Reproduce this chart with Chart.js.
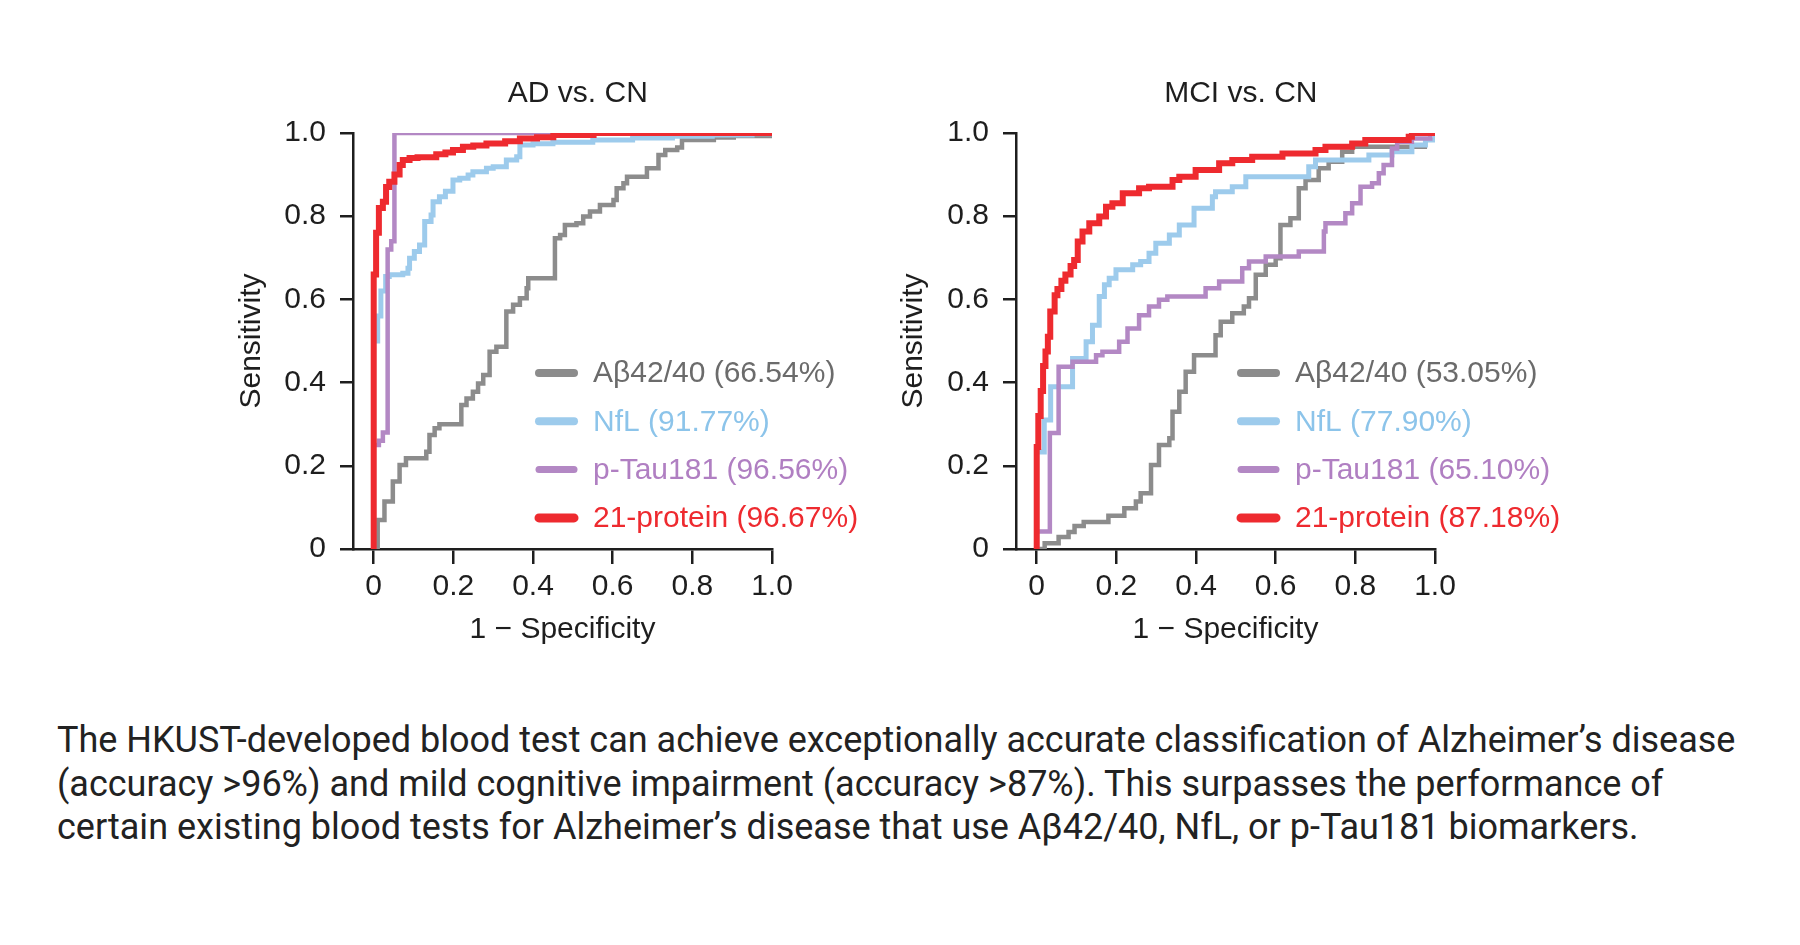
<!DOCTYPE html>
<html>
<head>
<meta charset="utf-8">
<script src="https://cdn.jsdelivr.net/npm/chart.js@4.4.1/dist/chart.umd.min.js"></script>
<style>
  html, body { margin: 0; padding: 0; background: #ffffff; }
  body { width: 1800px; height: 945px; position: relative; overflow: hidden; }
  canvas { position: absolute; }
  #adChart { left: 234px; top: 50px; }
  #mciChart { left: 896px; top: 50px; }
  #caption {
    position: absolute; left: 57px; top: 719px;
    font-family: Roboto, 'Noto Sans', sans-serif; font-size: 36px; line-height: 43.5px;
    color: #222222; white-space: nowrap;
  }
</style>
</head>
<body>
<canvas id="adChart" width="688" height="609"></canvas>
<canvas id="mciChart" width="690" height="609"></canvas>
<div id="caption">The HKUST-developed blood test can achieve exceptionally accurate classification of Alzheimer’s disease<br>(accuracy &gt;96%) and mild cognitive impairment (accuracy &gt;87%). This surpasses the performance of<br>certain existing blood tests for Alzheimer’s disease that use Aβ42/40, NfL, or p-Tau181 biomarkers.</div>
<script>
// ---------------- DATA ----------------
const SERIES_NAMES = ['Aβ42/40', 'NfL', 'p-Tau181', '21-protein'];
const AUC_AD = ['66.54%', '91.77%', '96.56%', '96.67%'];
const AUC_MCI = ['53.05%', '77.90%', '65.10%', '87.18%'];
const PANEL_TITLES = ['AD vs. CN', 'MCI vs. CN'];
const X_TITLE = '1 − Specificity';
const Y_TITLE = 'Sensitivity';
const X_TICKS = [0, 0.2, 0.4, 0.6, 0.8, 1.0];
const Y_TICKS = [0, 0.2, 0.4, 0.6, 0.8, 1.0];

// ROC step points [1 - specificity, sensitivity] — AD vs. CN
const AD_ABETA = [[0,0],[0.010,0.07],[0.027,0.114],[0.048,0.162],[0.065,0.202],[0.081,0.218],[0.132,0.234],[0.140,0.274],[0.153,0.290],[0.165,0.300],[0.220,0.346],[0.233,0.362],[0.249,0.378],[0.262,0.398],[0.275,0.418],[0.291,0.474],[0.308,0.486],[0.333,0.571],[0.350,0.587],[0.367,0.603],[0.384,0.627],[0.388,0.651],[0.455,0.747],[0.468,0.755],[0.480,0.779],[0.509,0.783],[0.526,0.799],[0.543,0.811],[0.568,0.827],[0.602,0.839],[0.610,0.867],[0.627,0.879],[0.636,0.895],[0.686,0.915],[0.715,0.947],[0.732,0.959],[0.762,0.965],[0.774,0.983],[0.854,0.989],[0.904,0.993],[1.0,1.0]];
const AD_NFL = [[0,0],[0,0.50],[0.010,0.56],[0.018,0.62],[0.030,0.655],[0.039,0.659],[0.073,0.663],[0.086,0.675],[0.090,0.699],[0.102,0.715],[0.115,0.731],[0.128,0.787],[0.144,0.803],[0.149,0.835],[0.165,0.847],[0.180,0.860],[0.199,0.887],[0.216,0.891],[0.237,0.899],[0.249,0.907],[0.283,0.915],[0.300,0.919],[0.333,0.935],[0.359,0.943],[0.367,0.971],[0.400,0.974],[0.450,0.978],[0.550,0.983],[0.650,0.988],[0.750,0.992],[0.850,0.995],[0.950,0.998],[1.0,1.0]];
const AD_PTAU = [[0,0],[0,0.25],[0.013,0.26],[0.023,0.28],[0.035,0.72],[0.044,0.74],[0.052,1.0],[1.0,1.0]];
const AD_21 = [[0,0],[0,0.66],[0.006,0.76],[0.013,0.82],[0.023,0.835],[0.031,0.87],[0.039,0.883],[0.052,0.90],[0.065,0.923],[0.073,0.935],[0.090,0.940],[0.110,0.942],[0.157,0.949],[0.180,0.953],[0.199,0.959],[0.224,0.967],[0.250,0.970],[0.283,0.975],[0.330,0.980],[0.367,0.987],[0.410,0.990],[0.451,0.995],[0.552,1.0],[1.0,1.0]];

// ROC step points — MCI vs. CN
const MCI_ABETA = [[0,0],[0.005,0],[0.020,0.014],[0.055,0.029],[0.080,0.041],[0.095,0.055],[0.118,0.065],[0.180,0.080],[0.220,0.098],[0.249,0.114],[0.261,0.134],[0.287,0.202],[0.307,0.250],[0.333,0.266],[0.341,0.330],[0.358,0.378],[0.374,0.426],[0.395,0.466],[0.449,0.514],[0.462,0.546],[0.491,0.567],[0.520,0.583],[0.533,0.603],[0.550,0.659],[0.575,0.683],[0.600,0.699],[0.612,0.779],[0.637,0.795],[0.658,0.867],[0.675,0.887],[0.708,0.915],[0.733,0.931],[0.767,0.955],[0.792,0.967],[0.980,0.967]];
const MCI_NFL = [[0,0],[0,0.233],[0.019,0.31],[0.035,0.39],[0.090,0.458],[0.124,0.498],[0.140,0.538],[0.157,0.607],[0.170,0.635],[0.182,0.651],[0.199,0.671],[0.241,0.683],[0.261,0.691],[0.282,0.711],[0.299,0.735],[0.333,0.755],[0.358,0.779],[0.395,0.819],[0.441,0.847],[0.449,0.859],[0.491,0.871],[0.525,0.895],[0.683,0.919],[0.700,0.935],[0.834,0.947],[0.892,0.955],[0.942,0.971],[0.976,0.983],[1.0,0.995]];
const MCI_PTAU = [[0,0],[0,0.042],[0.033,0.279],[0.055,0.438],[0.090,0.450],[0.149,0.466],[0.165,0.474],[0.207,0.498],[0.228,0.530],[0.257,0.562],[0.282,0.583],[0.307,0.599],[0.328,0.607],[0.424,0.627],[0.458,0.643],[0.516,0.675],[0.533,0.691],[0.575,0.703],[0.658,0.715],[0.721,0.763],[0.725,0.783],[0.775,0.807],[0.792,0.831],[0.813,0.871],[0.842,0.879],[0.859,0.903],[0.871,0.923],[0.892,0.963],[0.905,0.979],[0.942,0.987],[0.988,0.995]];
const MCI_21 = [[0,0],[0,0.245],[0.004,0.32],[0.010,0.38],[0.016,0.44],[0.022,0.475],[0.028,0.51],[0.034,0.571],[0.045,0.61],[0.052,0.625],[0.062,0.645],[0.072,0.66],[0.085,0.68],[0.094,0.695],[0.103,0.739],[0.115,0.763],[0.132,0.783],[0.157,0.799],[0.174,0.823],[0.190,0.831],[0.216,0.855],[0.257,0.867],[0.282,0.871],[0.341,0.887],[0.358,0.895],[0.399,0.911],[0.458,0.927],[0.491,0.935],[0.541,0.943],[0.617,0.951],[0.700,0.959],[0.725,0.967],[0.792,0.975],[0.825,0.983],[0.934,0.991],[0.942,1.0],[1.0,1.0]];

// ---------------- STYLE ----------------
const FONT = "'Liberation Sans', Arial, Helvetica, sans-serif";
const INK = '#1e1e1e';
const LINE_COLORS = ['#8c8c8c', '#9dcbec', '#b388c4', '#ee2a2f'];
const TEXT_COLORS = ['#6b6b6b', '#8cc4ea', '#b07fc2', '#ee2a2f'];
const LINE_WIDTHS = [4.5, 5, 4.5, 6];
const SAMPLE_WIDTHS = [8, 8, 7, 9];

const fmtTick = v => (Math.abs(v) < 1e-9 ? '0' : Number(v).toFixed(1));

const panelTitlePlugin = {
  id: 'panelTitle',
  afterDraw(chart, args, opts) {
    const ctx = chart.ctx;
    const xs = chart.scales.x;
    ctx.save();
    ctx.font = `normal ${opts.size}px ${FONT}`;
    ctx.fillStyle = INK;
    ctx.textAlign = 'center';
    ctx.textBaseline = 'middle';
    ctx.fillText(opts.text, xs.getPixelForValue(0.5) + opts.dx, opts.y);
    ctx.restore();
  }
};

const insideLegendPlugin = {
  id: 'insideLegend',
  afterDatasetsDraw(chart, args, opts) {
    const { ctx, chartArea } = chart;
    ctx.save();
    ctx.font = `normal ${opts.size}px ${FONT}`;
    ctx.textAlign = 'left';
    ctx.textBaseline = 'middle';
    chart.data.datasets.forEach((ds, i) => {
      const y = chartArea.top + opts.top + i * opts.gap;
      ctx.strokeStyle = ds.borderColor;
      ctx.lineWidth = SAMPLE_WIDTHS[i];
      ctx.lineCap = 'round';
      ctx.beginPath();
      ctx.moveTo(chartArea.left + opts.sampleX0, y);
      ctx.lineTo(chartArea.left + opts.sampleX1, y);
      ctx.stroke();
      ctx.fillStyle = TEXT_COLORS[i];
      ctx.fillText(ds.label, chartArea.left + opts.textX, y + 1);
    });
    ctx.restore();
  }
};

function makeChart(id, title, series, aucs, geo) {
  const datasets = series.map((pts, i) => ({
    label: `${SERIES_NAMES[i]} (${aucs[i]})`,
    data: pts.map(p => ({ x: p[0], y: p[1] })),
    borderColor: LINE_COLORS[i],
    backgroundColor: LINE_COLORS[i],
    borderWidth: LINE_WIDTHS[i],
    stepped: 'before',
    pointRadius: 0,
    pointHoverRadius: 0,
    fill: false,
    tension: 0,
    order: series.length - i,
    borderCapStyle: 'butt',
    borderJoinStyle: 'miter'
  }));
  const tickFont = { family: FONT, size: 30, lineHeight: 1.2 };
  return new Chart(document.getElementById(id), {
    type: 'line',
    data: { datasets },
    options: {
      responsive: false,
      animation: false,
      devicePixelRatio: 1,
      events: [],
      layout: { padding: { left: 0, right: geo.padRight, top: 83, bottom: 0 } },
      plugins: {
        legend: { display: false },
        tooltip: { enabled: false },
        title: { display: false },
        panelTitle: { text: title, size: 30, dx: 5, y: 44 },
        insideLegend: { size: 30, top: 240, gap: 48.3, sampleX0: geo.legX0, sampleX1: geo.legX1, textX: geo.legText }
      },
      scales: {
        x: {
          type: 'linear',
          min: -0.052,
          max: 1,
          afterBuildTicks: s => { s.ticks = X_TICKS.map(v => ({ value: v })); },
          afterFit: s => { s.height = 110; },
          ticks: { callback: fmtTick, color: INK, font: tickFont, padding: 5, maxRotation: 0, autoSkip: false },
          grid: { drawOnChartArea: false, drawTicks: true, tickLength: 15, color: INK, lineWidth: 2.5 },
          border: { display: true, color: INK, width: 2.5 },
          title: { display: true, text: X_TITLE, color: INK, font: { family: FONT, size: 30, lineHeight: 1.2 }, padding: { top: 0, bottom: 11 } }
        },
        y: {
          type: 'linear',
          min: 0,
          max: 1,
          afterBuildTicks: s => { s.ticks = Y_TICKS.map(v => ({ value: v })); },
          afterFit: s => { s.width = geo.yWidth; },
          ticks: { callback: fmtTick, color: INK, font: tickFont, padding: 14, autoSkip: false },
          grid: { drawOnChartArea: false, drawTicks: true, tickLength: 13, color: INK, lineWidth: 2.5 },
          border: { display: true, color: INK, width: 2.5 },
          title: { display: true, text: Y_TITLE, color: INK, font: { family: FONT, size: 30, lineHeight: 1.2 }, padding: { top: 0, bottom: 0 } }
        }
      }
    },
    plugins: [panelTitlePlugin, insideLegendPlugin]
  });
}

makeChart('adChart', PANEL_TITLES[0], [AD_ABETA, AD_NFL, AD_PTAU, AD_21], AUC_AD,
  { padRight: 150, yWidth: 119, legX0: 186, legX1: 221, legText: 240 });
makeChart('mciChart', PANEL_TITLES[1], [MCI_ABETA, MCI_NFL, MCI_PTAU, MCI_21], AUC_MCI,
  { padRight: 151, yWidth: 120, legX0: 225, legX1: 260, legText: 279 });
</script>
</body>
</html>
